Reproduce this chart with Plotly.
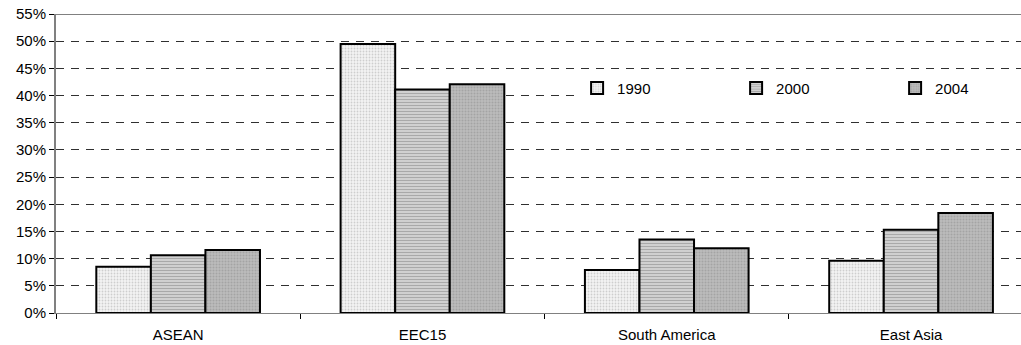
import plotly.graph_objects as go

# Regional shares by year
regions = ["ASEAN", "EEC15", "South America", "East Asia"]
years = ["1990", "2000", "2004"]
share_1990 = [0.085, 0.495, 0.079, 0.096]
share_2000 = [0.106, 0.411, 0.135, 0.153]
share_2004 = [0.116, 0.421, 0.119, 0.184]

series = [share_1990, share_2000, share_2004]
patterns = [
    dict(shape=".", bgcolor="#f4f4f4", fgcolor="#a8a8a8", size=3, solidity=0.3),
    dict(shape="-", bgcolor="#d8d8d8", fgcolor="#7a7a7a", size=3, solidity=0.45),
    dict(shape=".", bgcolor="#bdbdbd", fgcolor="#8c8c8c", size=3, solidity=0.4),
]

fig = go.Figure()
for name, vals, pat in zip(years, series, patterns):
    fig.add_trace(go.Bar(
        x=regions, y=vals, name=name,
        marker=dict(color="#ffffff", pattern=pat,
                    line=dict(color="#000000", width=2)),
    ))

fig.update_layout(
    width=1021, height=345,
    margin=dict(l=56, r=0, t=14, b=32, autoexpand=False),
    paper_bgcolor="white", plot_bgcolor="white",
    barmode="group", bargap=0.33, bargroupgap=0,
    font=dict(family="Liberation Sans, Arial, sans-serif", size=15, color="#000000"),
    showlegend=True,
    legend=dict(
        orientation="h", x=0.54, xanchor="left", y=0.752, yanchor="middle",
        bgcolor="white", borderwidth=0, entrywidth=114, entrywidthmode="pixels",
        font=dict(size=15),
    ),
    xaxis=dict(
        range=[-0.5, 3.45], showgrid=False, showline=True, linecolor="#808080",
        linewidth=1, ticks="outside", tickson="boundaries", ticklen=5,
        tickcolor="#000000", zeroline=False, ticklabelstandoff=8,
    ),
    yaxis=dict(
        range=[0, 0.55], dtick=0.05, tickformat=".0%", showgrid=True,
        gridcolor="#303030", gridwidth=1, griddash="8px,7px",
        showline=True, linecolor="#808080", linewidth=2,
        ticks="outside", ticklen=5, tickcolor="#000000", zeroline=False,
    ),
)

# solid top border of the plot area
fig.add_shape(type="line", xref="paper", yref="y", x0=0, x1=1, y0=0.55, y1=0.55,
              line=dict(color="#808080", width=2), layer="above")

fig.write_html("out.html")
